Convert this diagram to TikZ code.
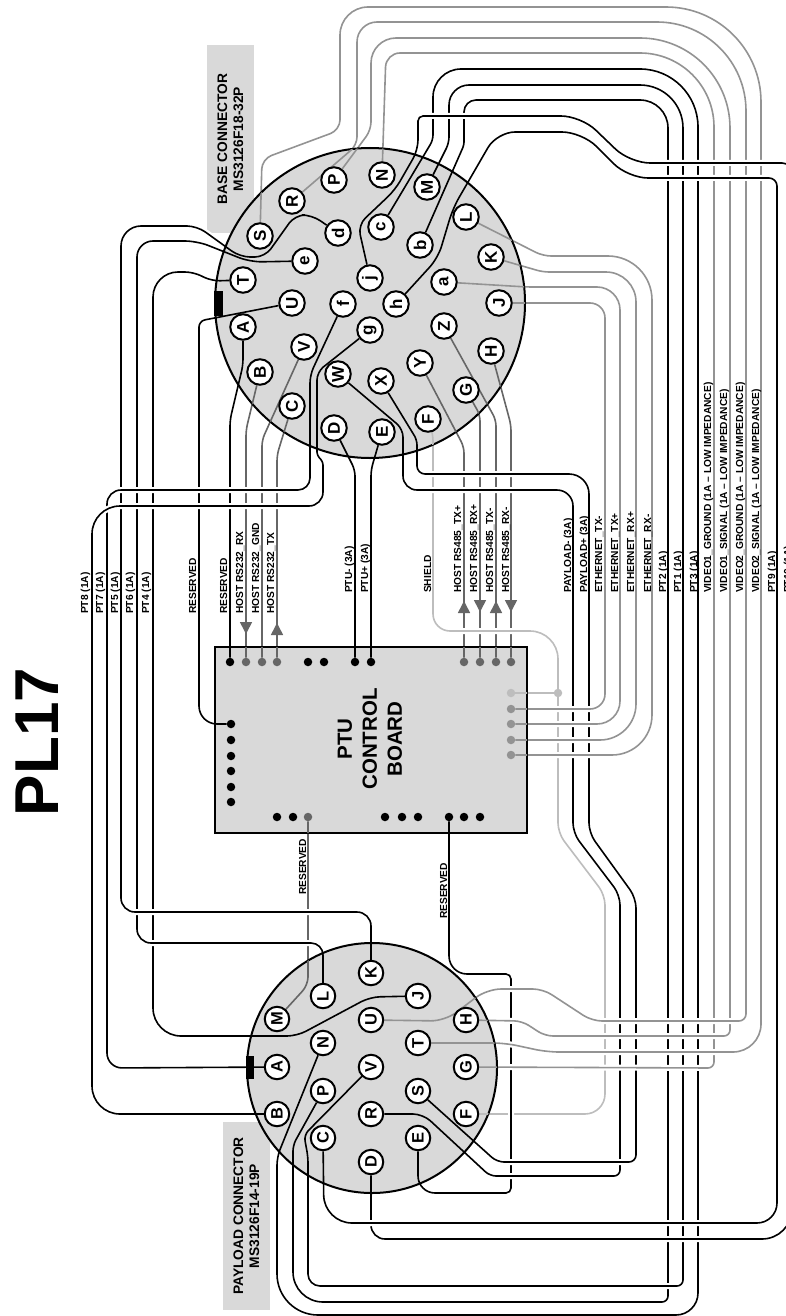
\documentclass[tikz,border=0pt]{standalone}
\usepackage{fontspec}
\setmainfont{Liberation Sans}
\usepackage{xcolor}
\usetikzlibrary{arrows.meta,positioning,shapes}
\definecolor{wiredark}{HTML}{666666}
\definecolor{wiremid}{HTML}{939393}
\definecolor{wirelight}{HTML}{BDBDBD}
\definecolor{panelgray}{HTML}{D9D9D9}
\tikzset{%
  rc/.style={rounded corners=#1pt},
  halo/.style={draw=white,line width=6pt,rc=6},
  wireline/.style={line width=1.6pt,rc=6},
  disc/.style={circle,draw,line width=2pt,fill=panelgray,inner sep=0pt},
  board/.style={rectangle,draw,line width=1.8pt,fill=panelgray,inner sep=0pt},
  notch/.style={rectangle,fill=black,inner sep=0pt},
  pin/.style={circle,draw,line width=2pt,fill=white,inner sep=0pt,minimum size=25.5pt,rotate=90,font=\fontsize{17}{17}\selectfont\bfseries},
  smallpin/.style={pin,minimum size=24.5pt,font=\fontsize{16.5}{16.5}\selectfont\bfseries},
  dot/.style={circle,fill=#1,inner sep=0pt,minimum size=8.5pt},
  dot/.default=black,
  wirelabel/.style={rotate=90,anchor=base west,inner sep=0pt,font=\fontsize{10.2}{12}\selectfont\bfseries},
  tag/.style={rectangle,fill=panelgray,inner sep=0pt,minimum width=188pt,minimum height=47pt,rotate=90,align=center,font=\fontsize{13.8}{16}\selectfont\bfseries},
  hostarrow/.style={draw=wiredark,fill=wiredark,-{Triangle[width=12pt,length=12pt]},line width=1.6pt},
}
\pgfdeclarelayer{outer}
\pgfdeclarelayer{panel}
\pgfdeclarelayer{inner}
\pgfsetlayers{outer,panel,inner,main}
\newcommand{\wire}[2][black]{%
  \begin{pgfonlayer}{outer}
    \draw[halo] #2;
    \draw[wireline,#1] #2;
  \end{pgfonlayer}
  \begin{pgfonlayer}{inner}
    \begin{scope}
      \clip (370,303) circle (155) (372,1068) circle (125) (215,647) rectangle (527,833);
      \draw[wireline,#1] #2;
    \end{scope}
  \end{pgfonlayer}}

\begin{document}
\begin{tikzpicture}[x=1pt,y=-1pt]
  \useasboundingbox (0,0) rectangle (785,1316);

  \node[rotate=90,anchor=base,font=\fontsize{62}{62}\selectfont\bfseries] (title) at (58,742) {PL17};

  \begin{pgfonlayer}{outer}
    \node[tag] (base_tag) at (230.5,139) {BASE CONNECTOR\\MS3126F18-32P};
    \node[tag] (payload_tag) at (246.5,1216) {PAYLOAD CONNECTOR\\MS3126F14-19P};
  \end{pgfonlayer}

  \begin{pgfonlayer}{panel}
    \node[disc,minimum size=310pt] (base_disc) at (370,303) {};
    \node[disc,minimum size=250pt] (payload_disc) at (372,1068) {};
    \node[board,minimum width=312pt,minimum height=186pt] (ptu_board) at (371,740) {};
  \end{pgfonlayer}

  \node[rotate=90,align=center,font=\fontsize{20.5}{25}\selectfont\bfseries] (ptu_text) at (370,739) {PTU\\CONTROL\\BOARD};

  \node[notch,minimum width=9pt,minimum height=25pt] (base_notch) at (218.5,303.5) {};
  \node[notch,minimum width=8pt,minimum height=23pt] (payload_notch) at (250,1067.5) {};

  \node[pin] (base_S) at (260,236) {S};
  \node[pin] (base_R) at (292,201) {R};
  \node[pin] (base_P) at (334,180) {P};
  \node[pin] (base_N) at (382,175) {N};
  \node[pin] (base_M) at (427,187) {M};
  \node[pin] (base_c) at (381,227) {c};
  \node[pin] (base_d) at (338,233) {d};
  \node[pin] (base_e) at (305,261) {e};
  \node[pin] (base_T) at (243,280) {T};
  \node[pin] (base_j) at (370,278) {j};
  \node[pin] (base_b) at (420,245) {b};
  \node[pin] (base_L) at (466,217) {L};
  \node[pin] (base_K) at (491,257) {K};
  \node[pin] (base_a) at (444,282) {a};
  \node[pin] (base_J) at (499,303) {J};
  \node[pin] (base_h) at (396,304) {h};
  \node[pin] (base_U) at (292,303) {U};
  \node[pin] (base_f) at (343,304) {f};
  \node[pin] (base_A) at (243,327) {A};
  \node[pin] (base_g) at (370,330) {g};
  \node[pin] (base_Z) at (444,326) {Z};
  \node[pin] (base_H) at (491,351) {H};
  \node[pin] (base_V) at (304,347) {V};
  \node[pin] (base_B) at (260,372) {B};
  \node[pin] (base_W) at (338,374) {W};
  \node[pin] (base_X) at (381,381) {X};
  \node[pin] (base_Y) at (420,363) {Y};
  \node[pin] (base_G) at (466,390) {G};
  \node[pin] (base_C) at (292,406) {C};
  \node[pin] (base_F) at (428,419) {F};
  \node[pin] (base_D) at (334,428) {D};
  \node[pin] (base_E) at (382,432) {E};

  \node[smallpin] (payload_K) at (371,973) {K};
  \node[smallpin] (payload_L) at (323,996) {L};
  \node[smallpin] (payload_M) at (277,1019) {M};
  \node[smallpin] (payload_J) at (418,996) {J};
  \node[smallpin] (payload_U) at (371,1020) {U};
  \node[smallpin] (payload_H) at (466,1020) {H};
  \node[smallpin] (payload_N) at (323,1043) {N};
  \node[smallpin] (payload_T) at (418,1043) {T};
  \node[smallpin] (payload_A) at (277,1067) {A};
  \node[smallpin] (payload_V) at (371,1067) {V};
  \node[smallpin] (payload_G) at (466,1067) {G};
  \node[smallpin] (payload_P) at (323,1091) {P};
  \node[smallpin] (payload_S) at (418,1091) {S};
  \node[smallpin] (payload_B) at (277,1114) {B};
  \node[smallpin] (payload_R) at (371,1114) {R};
  \node[smallpin] (payload_F) at (466,1114) {F};
  \node[smallpin] (payload_C) at (323,1138) {C};
  \node[smallpin] (payload_E) at (418,1138) {E};
  \node[smallpin] (payload_D) at (371,1162) {D};

  \node[dot] (pin_reserved1) at (230,662) {};
  \node[dot=wiredark] (pin_rx) at (246,662) {};
  \node[dot=wiredark] (pin_gnd) at (262,662) {};
  \node[dot=wiredark] (pin_tx) at (277,662) {};
  \node[dot] (pin_top5) at (308,662) {};
  \node[dot] (pin_top6) at (324,662) {};
  \node[dot] (pin_ptuminus) at (355,662) {};
  \node[dot] (pin_ptuplus) at (371,662) {};
  \node[dot=wiredark] (pin_txplus) at (464,662) {};
  \node[dot=wiredark] (pin_rxplus) at (480,662) {};
  \node[dot=wiredark] (pin_txminus) at (496,662) {};
  \node[dot=wiredark] (pin_rxminus) at (511,662) {};

  \node[dot] (pin_reserved2) at (231,724) {};
  \node[dot] (pin_left2) at (231,740) {};
  \node[dot] (pin_left3) at (231,756) {};
  \node[dot] (pin_left4) at (231,771) {};
  \node[dot] (pin_left5) at (231,787) {};
  \node[dot] (pin_left6) at (231,802) {};

  \node[dot] (pin_low1) at (277,817) {};
  \node[dot] (pin_low2) at (293,817) {};
  \node[dot=wiredark] (pin_reserved3) at (308,817) {};
  \node[dot] (pin_low4) at (385,817) {};
  \node[dot] (pin_low5) at (402,817) {};
  \node[dot] (pin_low6) at (418,817) {};
  \node[dot] (pin_reserved4) at (449,817) {};
  \node[dot] (pin_low8) at (464,817) {};
  \node[dot] (pin_low9) at (480,817) {};

  \node[dot=wirelight] (pin_shield) at (511,693) {};
  \node[dot=wiremid] (pin_ethtxminus) at (511,709) {};
  \node[dot=wiremid] (pin_ethtxplus) at (511,724) {};
  \node[dot=wiremid] (pin_ethrxplus) at (511,740) {};
  \node[dot=wiremid] (pin_ethrxminus) at (511,755) {};
  \node[dot=wirelight] (node_junction) at (558,693) {};

  \wire{(base_A) -- (243,365) -- (230,420) -- (pin_reserved1)}
  \wire[wiredark]{(base_B) -- (246,430) -- (pin_rx)}
  \wire[wiredark]{(base_V) -- (262,440) -- (pin_gnd)}
  \wire[wiredark]{(base_C) -- (277,455) -- (pin_tx)}
  \wire{(base_D) -- (355,470) -- (pin_ptuminus)}
  \wire{(base_E) -- (371,470) -- (pin_ptuplus)}
  \wire{(base_U) -- (199,321) [rc=18] -- (199,724) -- (pin_reserved2)}

  \wire[wiredark]{(base_Y) -- (464,447) -- (pin_txplus)}
  \wire[wiredark]{(base_G) -- (480,415) -- (pin_rxplus)}
  \wire[wiredark]{(base_Z) -- (496,420) -- (pin_txminus)}
  \wire[wiredark]{(base_H) -- (511,425) -- (pin_rxminus)}

  \wire[wirelight]{(base_F) -- (433,435) [rc=17] -- (433,631) [rc=28] -- (558,631) [rc=10] -- (558,833) -- (605,895) [rc=20] -- (605,1114) -- (payload_F)}
  \wire[wirelight]{(pin_shield) -- (node_junction)}

  \wire{(payload_E) [rc=17] -- (418,1193) [rc=5] -- (511,1193) -- (511,974) [rc=18] -- (449,974) -- (pin_reserved4)}
  \wire[wiredark]{(payload_M) [rc=8] -- (308,985) -- (pin_reserved3)}

  \wire{(payload_J) [rc=10] -- (370,997) -- (297,1036) [rc=28] -- (153,1036) [rc=25] -- (153,272) [rc=8] -- (193,272) -- (212,281) -- (base_T)}
  \wire{(payload_L) [rc=12] -- (323,943) [rc=14] -- (137,943) [rc=16] -- (137,241) [rc=12] -- (197,241) -- (250,262) -- (base_e)}
  \wire{(payload_K) [rc=14] -- (371,912) -- (121,912) [rc=20] -- (121,226) [rc=10] -- (197,226) -- (240,257) -- (265,257) -- (295,215) -- (312,215) -- (base_d)}
  \wire{(payload_A) [rc=15] -- (107,1068) [rc=14] -- (107,490) [rc=12] -- (310,490) [rc=8] -- (310,375) -- (base_f)}
  \wire{(payload_B) [rc=28] -- (92,1114) -- (92,506) [rc=14] -- (323,506) [rc=3] -- (323,462) -- (317,455) [rc=8] -- (317,372) -- (base_g)}

  \wire{(base_W) [rc=8] -- (403,429) [rc=14] -- (403,490) [rc=16] -- (573,490) [rc=10] -- (573,833) -- (620,895) [rc=6] -- (620,1176) -- (490,1176) [rc=10] -- (423,1114) -- (payload_R)}
  \wire{(base_X) [rc=5] -- (417,440) [rc=8] -- (417,474) [rc=20] -- (589,474) [rc=10] -- (589,833) -- (636,898) [rc=7] -- (636,1162) -- (497,1162) -- (payload_S)}

  \wire{(base_b) [rc=3] -- (464,145) [rc=12] -- (464,100) [rc=28] -- (668,100) [rc=6] -- (668,1302) [rc=30] -- (293,1302) [rc=6] -- (293,1145) -- (payload_P)}
  \wire{(base_M) [rc=6] -- (449,143) [rc=20] -- (449,85) [rc=43] -- (683,85) [rc=6] -- (683,1286) [rc=12] -- (308,1286) [rc=6] -- (308,1157) -- (304,1135) -- (payload_V)}
  \wire{(base_c) [rc=5] -- (433,140) [rc=28] -- (433,69) [rc=58] -- (698,69) [rc=22] -- (698,1315) [rc=41] -- (277,1315) [rc=8] -- (277,1157) -- (payload_N)}

  \wire[wiremid]{(base_J) [rc=15] -- (605,303) -- (605,709) -- (pin_ethtxminus)}
  \wire[wiremid]{(base_a) [rc=6] -- (527,287) [rc=23] -- (620,287) -- (620,724) -- (pin_ethtxplus)}
  \wire[wiremid]{(base_K) [rc=6] -- (543,272) [rc=30] -- (636,272) [rc=36] -- (636,740) -- (pin_ethrxplus)}
  \wire[wiremid]{(base_L) [rc=8] -- (543,256) [rc=44] -- (652,256) [rc=40] -- (652,755) -- (pin_ethrxminus)}

  \wire[wiremid]{(base_N) [rc=14] -- (386,53) [rc=74] -- (714,53) [rc=6] -- (714,1068) -- (payload_G)}
  \wire[wiremid]{(base_P) [rc=8] -- (371,130) [rc=25] -- (371,38) [rc=90] -- (730,38) [rc=6] -- (730,1036) [rc=8] -- (545,1036) -- (522,1021) -- (payload_H)}
  \wire[wiremid]{(base_R) [rc=8] -- (357,145) [rc=20] -- (357,22) [rc=89] -- (746,22) [rc=7] -- (746,1021) [rc=10] -- (592,1021) -- (543,989) [rc=14] -- (487,989) -- (445,1021) -- (payload_U)}
  \wire[wiremid]{(base_S) [rc=10] -- (262,159) -- (340,130) [rc=28] -- (340,7) [rc=95] -- (761,7) [rc=28] -- (761,1052) [rc=12] -- (547,1052) -- (505,1043) -- (payload_T)}

  \wire{(base_j) [rc=10] -- (358,225) -- (395,190) -- (418,150) [rc=5] -- (418,116) [rc=20] -- (581,116) -- (630,163) [rc=10] -- (792,163) [rc=30] -- (792,1239) [rc=14] -- (371,1239) -- (payload_D)}
  \wire{(base_h) [rc=12] -- (438,258) -- (453,208) [rc=18] -- (497,132) [rc=20] -- (582,132) -- (628,178) [rc=8] -- (777,178) [rc=20] -- (777,1223) [rc=28] -- (324,1223) -- (payload_C)}

  \coordinate (arrow_rx) at (246,622);
  \coordinate (arrow_tx) at (277,635);
  \coordinate (arrow_txplus) at (464,613);
  \coordinate (arrow_rxplus) at (480,600);
  \coordinate (arrow_txminus) at (496,613);
  \coordinate (arrow_rxminus) at (511,600);
  \draw[hostarrow] (arrow_rx) -- ++(0,12);
  \draw[hostarrow] (arrow_tx) -- ++(0,-12);
  \draw[hostarrow] (arrow_txplus) -- ++(0,-12);
  \draw[hostarrow] (arrow_rxplus) -- ++(0,12);
  \draw[hostarrow] (arrow_txminus) -- ++(0,-12);
  \draw[hostarrow] (arrow_rxminus) -- ++(0,12);

  \node[wirelabel] (label_pt8) at (88,614) {PT8 (1A)};
  \node[wirelabel] (label_pt7) at (103,614) {PT7 (1A)};
  \node[wirelabel] (label_pt5) at (118,614) {PT5 (1A)};
  \node[wirelabel] (label_pt6) at (133,614) {PT6 (1A)};
  \node[wirelabel] (label_pt4) at (149,614) {PT4 (1A)};
  \node[wirelabel] (label_reserved1) at (196,614) {RESERVED};
  \node[wirelabel] (label_reserved2) at (227,614) {RESERVED};
  \node[wirelabel] (label_rx) at (243,614) {HOST RS232\_RX};
  \node[wirelabel] (label_gnd) at (259,614) {HOST RS232\_GND};
  \node[wirelabel] (label_tx) at (274,614) {HOST RS232\_TX};
  \node[wirelabel] (label_ptuminus) at (352,593) {PTU- (3A)};
  \node[wirelabel] (label_ptuplus) at (368,593) {PTU+ (3A)};
  \node[wirelabel] (label_shield) at (431,593) {SHIELD};
  \node[wirelabel] (label_txplus) at (461,593) {HOST RS485\_TX+};
  \node[wirelabel] (label_rxplus) at (477,593) {HOST RS485\_RX+};
  \node[wirelabel] (label_txminus) at (493,593) {HOST RS485\_TX-};
  \node[wirelabel] (label_rxminus) at (509,593) {HOST RS485\_RX-};
  \node[wirelabel] (label_payloadminus) at (571,593) {PAYLOAD- (3A)};
  \node[wirelabel] (label_payloadplus) at (587,593) {PAYLOAD+ (3A)};
  \node[wirelabel] (label_ethtxminus) at (602,593) {ETHERNET\_TX-};
  \node[wirelabel] (label_ethtxplus) at (618,593) {ETHERNET\_TX+};
  \node[wirelabel] (label_ethrxplus) at (634,593) {ETHERNET\_RX+};
  \node[wirelabel] (label_ethrxminus) at (651,593) {ETHERNET\_RX-};
  \node[wirelabel] (label_pt2) at (666,593) {PT2 (1A)};
  \node[wirelabel] (label_pt1) at (681,593) {PT1 (1A)};
  \node[wirelabel] (label_pt3) at (697,593) {PT3 (1A)};
  \node[wirelabel] (label_video1g) at (711,593) {VIDEO1\_GROUND (1A -- LOW IMPEDANCE)};
  \node[wirelabel] (label_video1s) at (727,593) {VIDEO1\_SIGNAL (1A -- LOW IMPEDANCE)};
  \node[wirelabel] (label_video2g) at (743,593) {VIDEO2\_GROUND (1A -- LOW IMPEDANCE)};
  \node[wirelabel] (label_video2s) at (759,593) {VIDEO2\_SIGNAL (1A -- LOW IMPEDANCE)};
  \node[wirelabel] (label_pt9) at (775,593) {PT9 (1A)};
  \node[wirelabel] (label_pt10) at (791,593) {PT10 (1A)};
  \node[wirelabel] (label_reserved3) at (306,895) {RESERVED};
  \node[wirelabel] (label_reserved4) at (447,919) {RESERVED};
\end{tikzpicture}
\end{document}
